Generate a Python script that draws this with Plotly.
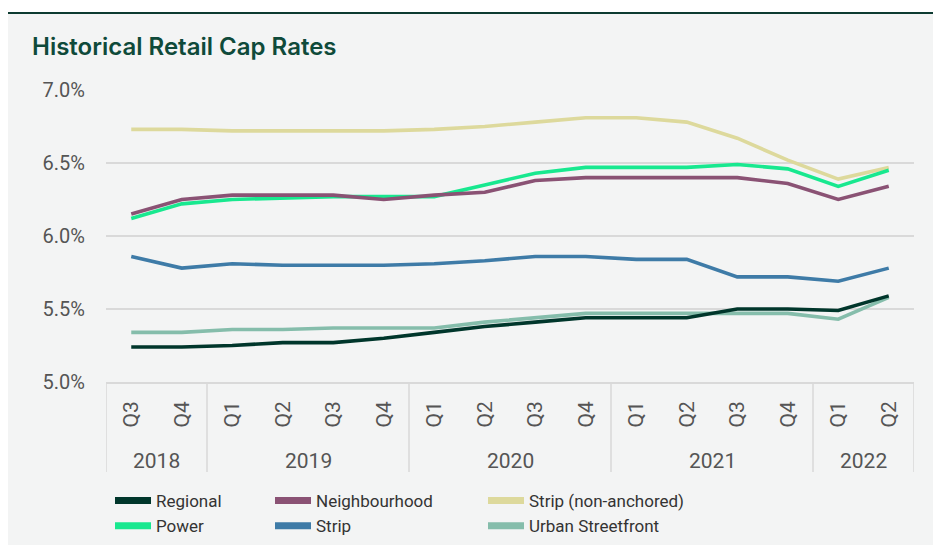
import plotly.graph_objects as go

years = ["2018", "2018",
         "2019", "2019", "2019", "2019",
         "2020", "2020", "2020", "2020",
         "2021", "2021", "2021", "2021",
         "2022", "2022"]
quarters = ["Q3", "Q4",
            "Q1", "Q2", "Q3", "Q4",
            "Q1", "Q2", "Q3", "Q4",
            "Q1", "Q2", "Q3", "Q4",
            "Q1", "Q2"]

regional = [5.24, 5.24, 5.25, 5.27, 5.27, 5.30, 5.34, 5.38, 5.41, 5.44, 5.44, 5.44, 5.50, 5.50, 5.49, 5.59]
neighbourhood = [6.15, 6.25, 6.28, 6.28, 6.28, 6.25, 6.28, 6.30, 6.38, 6.40, 6.40, 6.40, 6.40, 6.36, 6.25, 6.34]
strip_na = [6.73, 6.73, 6.72, 6.72, 6.72, 6.72, 6.73, 6.75, 6.78, 6.81, 6.81, 6.78, 6.67, 6.52, 6.39, 6.47]
power = [6.12, 6.22, 6.25, 6.26, 6.27, 6.27, 6.27, 6.35, 6.43, 6.47, 6.47, 6.47, 6.49, 6.46, 6.34, 6.45]
strip = [5.86, 5.78, 5.81, 5.80, 5.80, 5.80, 5.81, 5.83, 5.86, 5.86, 5.84, 5.84, 5.72, 5.72, 5.69, 5.78]
urban = [5.34, 5.34, 5.36, 5.36, 5.37, 5.37, 5.37, 5.41, 5.44, 5.47, 5.47, 5.47, 5.47, 5.47, 5.43, 5.58]

series = [
    ("Regional", regional, "#00362b", "legend"),
    ("Neighbourhood", neighbourhood, "#8a5274", "legend2"),
    ("Strip (non-anchored)", strip_na, "#ddd99c", "legend3"),
    ("Power", power, "#18e88f", "legend"),
    ("Strip", strip, "#3e7ba7", "legend2"),
    ("Urban Streetfront", urban, "#85bdab", "legend3"),
]
# draw order (back to front)
draw_order = ["Strip (non-anchored)", "Power", "Neighbourhood", "Strip", "Urban Streetfront", "Regional"]

periods = [f"{y} {q}" for y, q in zip(years, quarters)]

W, H = 933, 545
L, R, T, B = 106, 19, 90, 163
PW, PH = W - L - R, H - T - B


def px(p):
    return (p - L) / PW


def py(p):
    return (H - B - p) / PH


fig = go.Figure()
lookup = {s[0]: s for s in series}
for name in draw_order:
    n, vals, col, lg = lookup[name]
    fig.add_trace(go.Scatter(x=periods, y=vals, mode="lines", name=n,
                             line=dict(color=col, width=3.6), showlegend=False))
# legend-only swatches (no visible data)
for n, vals, col, lg in series:
    fig.add_trace(go.Scatter(x=periods, y=[None] * len(vals), mode="lines", name=n,
                             line=dict(color=col, width=7), showlegend=True, legend=lg,
                             hoverinfo="skip"))

grey = "#f3f4f4"
axis_grey = "#d9d9d9"
fig.update_layout(
    width=W, height=H,
    margin=dict(l=L, r=R, t=T, b=B, autoexpand=False),
    paper_bgcolor=grey, plot_bgcolor=grey,
    font=dict(family="Roboto", color="#555555"),
    title=dict(text="Historical Retail Cap Rates", xref="container", yref="container",
               x=32 / W, xanchor="left", y=1 - 47 / H, yanchor="middle",
               font=dict(family="Inter", size=24, color="#0f4a3a", weight=600)),
    xaxis=dict(type="category", categoryorder="array", categoryarray=periods,
               range=[-0.5, len(periods) - 0.5],
               tickmode="array", tickvals=periods, ticktext=quarters,
               tickangle=-90, ticklabelstandoff=9,
               showline=True, linecolor=axis_grey, linewidth=1.5,
               showgrid=False, ticks="", automargin=False,
               tickfont=dict(size=21, color="#555555")),
    yaxis=dict(range=[5.0, 7.0], dtick=0.5, tickformat=".1f", ticksuffix="%",
               showgrid=True, gridcolor=axis_grey, gridwidth=1.5, zeroline=False,
               showline=False, ticks="", ticklabelstandoff=20, automargin=False,
               tickfont=dict(size=20, color="#555555")),
    showlegend=True,
)
leg_common = dict(xanchor="left", yanchor="top",
                  orientation="v", bgcolor="rgba(0,0,0,0)", tracegroupgap=0,
                  font=dict(size=17, color="#333333"), itemwidth=36)
fig.update_layout(
    legend=dict(x=px(110), y=py(483), **leg_common),
    legend2=dict(x=px(270), y=py(483), **leg_common),
    legend3=dict(x=px(483), y=py(483), **leg_common),
)

# year groups: labels and dividers
groups = []
for i, yv in enumerate(years):
    if not groups or groups[-1][0] != yv:
        groups.append([yv, i, i])
    else:
        groups[-1][2] = i
for yv, i0, i1 in groups:
    fig.add_annotation(x=(i0 + i1) / 2, y=py(461), xref="x", yref="paper", text=yv,
                       showarrow=False, xanchor="center", yanchor="middle",
                       font=dict(size=21, color="#555555"))
    fig.add_shape(type="line", xref="x", yref="paper", x0=i0 - 0.5, x1=i0 - 0.5,
                  y0=0, y1=py(472), line=dict(color=axis_grey, width=1.5))
last = groups[-1][2]
fig.add_shape(type="line", xref="x", yref="paper", x0=last + 0.5, x1=last + 0.5,
              y0=0, y1=py(472), line=dict(color=axis_grey, width=1.5))

# white margin and dark top rule
fig.add_shape(type="rect", xref="paper", yref="paper", x0=px(-5), x1=px(8), y0=py(H + 5), y1=py(-5),
              fillcolor="white", line=dict(width=0), layer="above")
fig.add_shape(type="rect", xref="paper", yref="paper", x0=px(-5), x1=px(W + 5), y0=py(12), y1=py(-5),
              fillcolor="white", line=dict(width=0), layer="above")
fig.add_shape(type="rect", xref="paper", yref="paper", x0=px(8), x1=px(W + 5), y0=py(14), y1=py(12),
              fillcolor="#0d3b31", line=dict(width=0), layer="above")

fig.write_html("out.html")
